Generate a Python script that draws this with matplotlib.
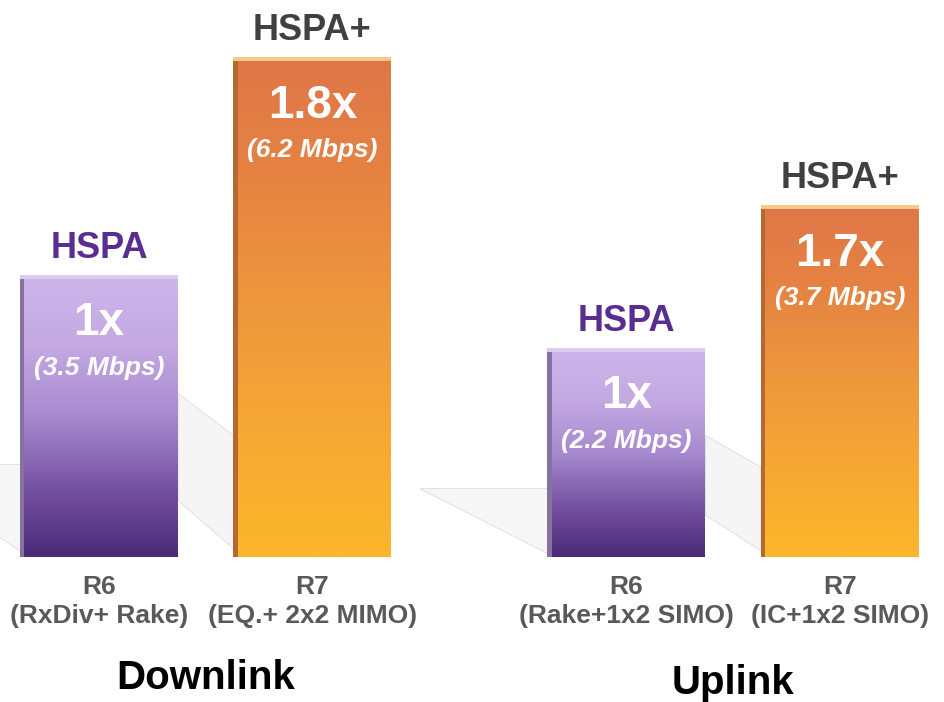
import numpy as np
import matplotlib.pyplot as plt
from matplotlib.colors import LinearSegmentedColormap
from matplotlib.patches import Polygon, Rectangle

plt.rcParams['font.family'] = ['Liberation Sans', 'DejaVu Sans']

# chart data
techs = ['HSPA', 'HSPA+']
dl_mbps = [3.5, 6.2]
ul_mbps = [2.2, 3.7]
dl_gain = ['1x', '1.8x']
ul_gain = ['1x', '1.7x']
dl_labels = ['R6\n(RxDiv+ Rake)', 'R7\n(EQ.+ 2x2 MIMO)']
ul_labels = ['R6\n(Rake+1x2 SIMO)', 'R7\n(IC+1x2 SIMO)']

purple = LinearSegmentedColormap.from_list(
    'purple', ['#4A2A76', '#7654A4', '#A88ACF', '#C4A9E3', '#CDB6EA'])
orange = LinearSegmentedColormap.from_list(
    'orange', ['#FCB72B', '#F6A834', '#EE983C', '#E68442', '#DF7648'])
cmaps = [purple, orange]
top_cols = ['#DCCCEF', '#F6C98A']
side_cols = ['#86729F', '#B5682F']
tech_cols = ['#5A2E91', '#404040']


def draw_group(ax, values, gains, labels, title, title_off, xlim, ylim):
    x = np.arange(len(values))
    bars = ax.bar(x, values, width=0.74, color='none', edgecolor='none', zorder=2)
    ax.set_xlim(*xlim)
    ax.set_ylim(*ylim)
    ymax = ylim[1]
    grad = np.linspace(0, 1, 256).reshape(-1, 1)

    # faint floor shadows
    b0 = bars[0]
    h0 = b0.get_height()
    bl = b0.get_x()
    br = b0.get_x() + b0.get_width()
    nl = bars[1].get_x()
    ax.add_patch(Polygon([(bl - 0.6, 0.33 * h0), (bl, 0.33 * h0), (bl, 0.02 * h0)],
                         closed=True, fc='#F6F6F6', ec='#E2E2E2', lw=0.7, zorder=1))
    ax.add_patch(Polygon([(br, 0.58 * h0), (nl, 0.43 * h0), (nl, 0.03 * h0), (br, 0.2 * h0)],
                         closed=True, fc='#F5F5F5', ec='#E0E0E0', lw=0.7, zorder=1))

    for i, b in enumerate(bars):
        x0, w, h = b.get_x(), b.get_width(), b.get_height()
        im = ax.imshow(grad, extent=[x0, x0 + w, 0, h], origin='lower',
                       aspect='auto', cmap=cmaps[i], zorder=2)
        im.set_clip_path(b)
        th = ymax * 0.007
        ax.add_patch(Rectangle((x0, h - th), w, th, fc=top_cols[i], ec='none', zorder=3))
        ax.add_patch(Rectangle((x0, 0), 0.02, h - th, fc=side_cols[i], ec='none', zorder=3))

        cx = x0 + w / 2
        ax.annotate(techs[i], xy=(cx, h), xytext=(0, 19), textcoords='offset points',
                    ha='center', va='center', fontsize=26, fontweight='bold',
                    color=tech_cols[i])
        ax.annotate(gains[i], xy=(cx, h), xytext=(0, -35), textcoords='offset points',
                    ha='center', va='center', fontsize=33, fontweight='bold',
                    color='white', zorder=4)
        ax.annotate('(%.1f Mbps)' % values[i], xy=(cx, h), xytext=(0, -67),
                    textcoords='offset points', ha='center', va='center',
                    fontsize=19, fontweight='bold', fontstyle='italic',
                    color='white', zorder=4)

    ax.set_xticks(x, labels, fontsize=19, fontweight='bold', color='#595959',
                  linespacing=1.25)
    ax.tick_params(axis='x', length=0, pad=13)
    ax.set_yticks([])
    for s in ax.spines.values():
        s.set_visible(False)
    ax.patch.set_alpha(0)

    ax.annotate(title, xy=(x.mean(), 0), xycoords=('data', 'axes fraction'),
                xytext=(0, title_off), textcoords='offset points', ha='center',
                va='center', fontsize=29, fontweight='bold', color='black')


fig = plt.figure(figsize=(9.45, 7.02), dpi=100)
bottom = 145 / 702
height = 557 / 702
ax1 = fig.add_axes([0, bottom, 410 / 945, height])
ax2 = fig.add_axes([420 / 945, bottom, 525 / 945, height])

draw_group(ax1, dl_mbps, dl_gain, dl_labels, 'Downlink', -87, (-0.464, 1.457), (0, 6.907))
draw_group(ax2, ul_mbps, ul_gain, ul_labels, 'Uplink', -91, (-0.967, 1.492), (0, 5.855))

fig.savefig('out.png', dpi=100)
